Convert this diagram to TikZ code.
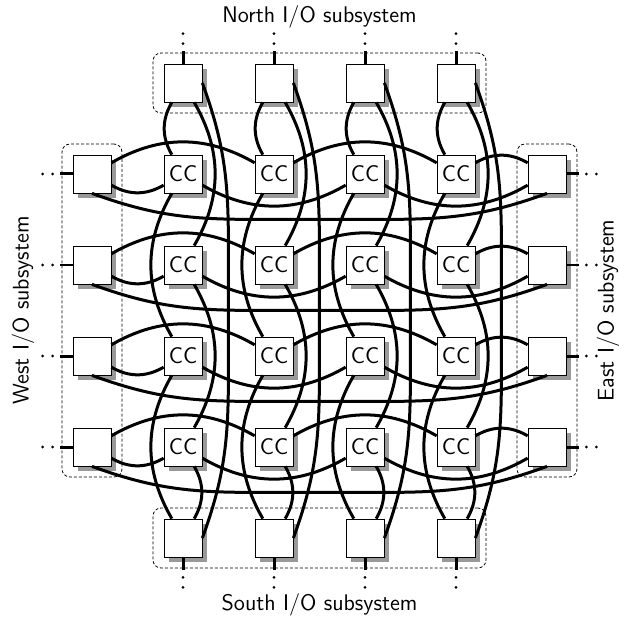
\documentclass[tikz,border=0pt]{standalone}
\usepackage{fontspec}
\usepackage{tikz}
\usetikzlibrary{calc, positioning, fit, shadows}

\begin{document}
\begin{tikzpicture}[
    font=\sffamily\fontsize{11.3}{13.5}\selectfont,
    box/.style={draw, thin, fill=white, minimum size=19pt, inner sep=0pt,
      drop shadow={shadow xshift=2.5pt, shadow yshift=-2.5pt, fill=black!40, opacity=1}},
    link/.style={line width=1.5pt},
    stub/.style={line width=1.5pt},
    iodots/.style={line width=1.6pt, line cap=round, dash pattern=on 0pt off 5pt},
    group/.style={draw, thin, rounded corners=4pt, dash pattern=on 1.5pt off 1pt, inner sep=5.3pt},
    sublabel/.style={inner sep=0pt}
  ]
  \useasboundingbox (-1.6176,1.4593) rectangle (9.2659,-9.4066);
  % I/O nodes on the four sides, CC nodes in the middle
  \foreach \c in {1,...,4}{
    \node[box] (n-0-\c) at (1.6*\c, 0) {};
    \node[box] (n-5-\c) at (1.6*\c, -8) {};
  }
  \foreach \r in {1,...,4}{
    \node[box] (n-\r-0) at (0, -1.6*\r) {};
    \node[box] (n-\r-5) at (8, -1.6*\r) {};
    \foreach \c in {1,...,4}
      \node[box] (n-\r-\c) at (1.6*\c, -1.6*\r) {CC};
  }
  % subsystem frames
  \node[group, fit=(n-0-1)(n-0-4)] (grpN) {};
  \node[group, fit=(n-5-1)(n-5-4)] (grpS) {};
  \node[group, fit=(n-1-0)(n-4-0)] (grpW) {};
  \node[group, fit=(n-1-5)(n-4-5)] (grpE) {};
  \node[sublabel, above=12pt of grpN] (lblN) {North I/O subsystem};
  \node[sublabel, below=12.5pt of grpS] (lblS) {South I/O subsystem};
  \node[sublabel, rotate=90, anchor=south] (lblW) at ($(grpW.west)+(-13.5pt,0)$) {West I/O subsystem};
  \node[sublabel, rotate=90, anchor=north] (lblE) at ($(grpE.east)+(9.5pt,0)$) {East I/O subsystem};
  % external ports
  \foreach \i in {1,...,4}{
    \draw[stub] (n-0-\i.north) -- ++(0,6.5pt) coordinate (pN-\i);
    \draw[iodots] ($(pN-\i)+(0,3.5pt)$) -- ++(0,5.2pt);
    \draw[stub] (n-5-\i.south) -- ++(0,-6.5pt) coordinate (pS-\i);
    \draw[iodots] ($(pS-\i)+(0,-3.5pt)$) -- ++(0,-5.2pt);
    \draw[stub] (n-\i-0.west) -- ++(-6.5pt,0) coordinate (pW-\i);
    \draw[iodots] ($(pW-\i)+(-3.5pt,0)$) -- ++(-5.2pt,0);
    \draw[stub] (n-\i-5.east) -- ++(6.5pt,0) coordinate (pE-\i);
    \draw[iodots] ($(pE-\i)+(3.5pt,0)$) -- ++(5.2pt,0);
  }
  % rows: folded rings plus wrap-around
  \foreach \r in {1,...,4}{
    \foreach \a/\b in {0/1,1/3,3/5}
      \draw[link] (n-\r-\a.-30) to[out=-30, in=-150] (n-\r-\b.-150);
    \foreach \a/\b in {0/2,2/4,4/5}
      \draw[link] (n-\r-\a.30) to[out=30, in=150] (n-\r-\b.150);
    \draw[link] (n-\r-0.south) to[out=-20, in=180] ($(n-\r-0.south)+(80pt,-13pt)$)
      -- ($(n-\r-5.south)+(-80pt,-13pt)$) to[out=0, in=-160] (n-\r-5.south);
  }
  % columns: folded rings plus wrap-around
  \foreach \c in {1,...,4}{
    \foreach \a/\b in {0/1,1/3,3/5}
      \draw[link] (n-\a-\c.-120) to[out=-120, in=120] (n-\b-\c.120);
    \foreach \a/\b in {0/2,2/4,4/5}
      \draw[link] (n-\a-\c.-60) to[out=-60, in=60] (n-\b-\c.60);
    \draw[link] (n-0-\c.east) to[out=-70, in=90] ($(n-0-\c.east)+(13pt,-80pt)$)
      -- ($(n-5-\c.east)+(13pt,80pt)$) to[out=-90, in=70] (n-5-\c.east);
  }
\end{tikzpicture}
\end{document}
